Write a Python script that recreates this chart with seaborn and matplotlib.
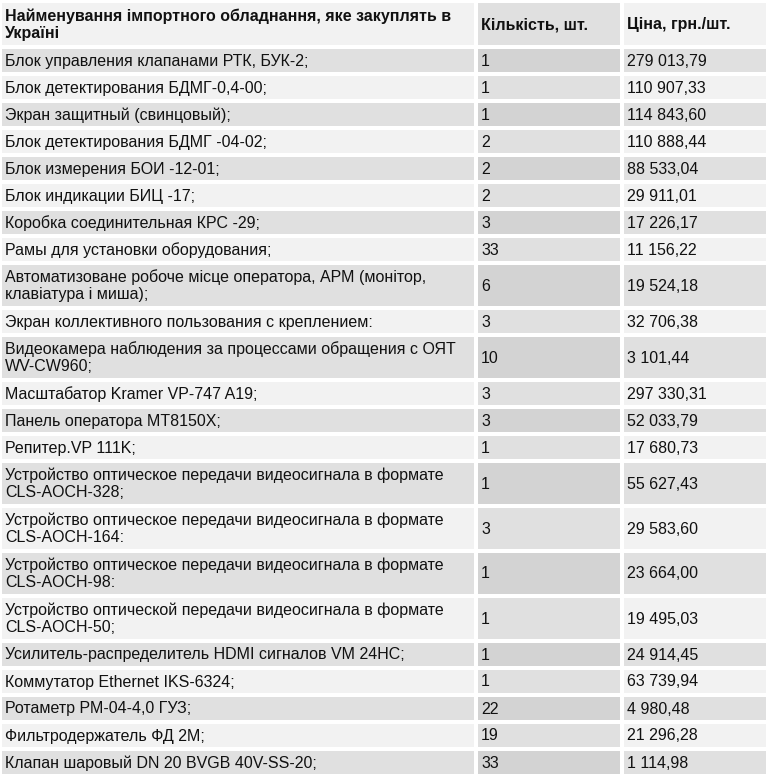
import seaborn as sns
import matplotlib.pyplot as plt
from matplotlib.patches import Rectangle

# table contents
headers = ["Найменування імпортного обладнання, яке закуплять в\nУкраїні",
           "Кількість, шт.",
           "Ціна, грн./шт."]

names = [
    "Блок управления клапанами РТК, БУК-2;",
    "Блок детектирования БДМГ-0,4-00;",
    "Экран защитный (свинцовый);",
    "Блок детектирования БДМГ -04-02;",
    "Блок измерения БОИ -12-01;",
    "Блок индикации БИЦ -17;",
    "Коробка соединительная КРС -29;",
    "Рамы для установки оборудования;",
    "Автоматизоване робоче місце оператора, АРМ (монітор,\nклавіатура і миша);",
    "Экран коллективного пользования с креплением:",
    "Видеокамера наблюдения за процессами обращения с ОЯТ\nWV-CW960;",
    "Масштабатор Kramer VP-747 A19;",
    "Панель оператора MT8150X;",
    "Репитер.VP 111K;",
    "Устройство оптическое передачи видеосигнала в формате\nCLS-AOCH-328;",
    "Устройство оптическое передачи видеосигнала в формате\nCLS-AOCH-164:",
    "Устройство оптическое передачи видеосигнала в формате\nCLS-AOCH-98:",
    "Устройство оптической передачи видеосигнала в формате\nCLS-AOCH-50;",
    "Усилитель-распределитель HDMI сигналов VM 24HC;",
    "Коммутатор Ethernet IKS-6324;",
    "Ротаметр РМ-04-4,0 ГУЗ;",
    "Фильтродержатель ФД 2М;",
    "Клапан шаровый DN 20 BVGB 40V-SS-20;",
]

quantity = [1, 1, 1, 2, 2, 2, 3, 33, 6, 3, 10, 3, 3, 1, 1, 3, 1, 1, 1, 1, 22, 19, 33]

price = [279013.79, 110907.33, 114843.60, 110888.44, 88533.04, 29911.01,
         17226.17, 11156.22, 19524.18, 32706.38, 3101.44, 297330.31,
         52033.79, 17680.73, 55627.43, 29583.60, 23664.00, 19495.03,
         24914.45, 63739.94, 4980.48, 21296.28, 1114.98]


def fmt_price(v):
    return f"{v:,.2f}".replace(",", " ").replace(".", ",")


sns.set_theme(style="white")
plt.rcParams['font.family'] = ['Liberation Sans', 'DejaVu Sans']

W, H = 769, 778
fig = plt.figure(figsize=(W / 100, H / 100), dpi=100)
ax = fig.add_axes([0, 0, 1, 1])
ax.set_xlim(0, W)
ax.set_ylim(H, 0)
ax.axis("off")

col_edges = [0, 476, 622, 768]
base_h, line_h, pad = 27, 18, 2
fs = 11.5

light = ["#f2f2f2", "#e0e0e0", "#f2f2f2"]
dark = ["#e0e0e0", "#d3d3d3", "#e0e0e0"]


def draw_row(y0, cells, colors, bold=False):
    n_lines = max(c.count("\n") + 1 for c in cells)
    h = base_h + line_h * (n_lines - 1) + (1 if bold else 0)
    for j, txt in enumerate(cells):
        x0, x1 = col_edges[j], col_edges[j + 1]
        ax.add_patch(Rectangle((x0 + pad, y0 + pad), x1 - x0 - 2 * pad, h - 2 * pad,
                               facecolor=colors[j], edgecolor="none"))
        ax.text(x0 + pad + 3, y0 + h / 2 + 0.5, txt, fontsize=fs, color="#111111",
                va="center", ha="left", linespacing=1.17,
                fontweight="bold" if bold else "normal")
    return y0 + h


y = 1
y = draw_row(y, headers, light, bold=True)
for i, (n, q, p) in enumerate(zip(names, quantity, price)):
    y = draw_row(y, [n, str(q), fmt_price(p)], dark if i % 2 == 0 else light)

fig.savefig("out.png", dpi=100, facecolor="white")
